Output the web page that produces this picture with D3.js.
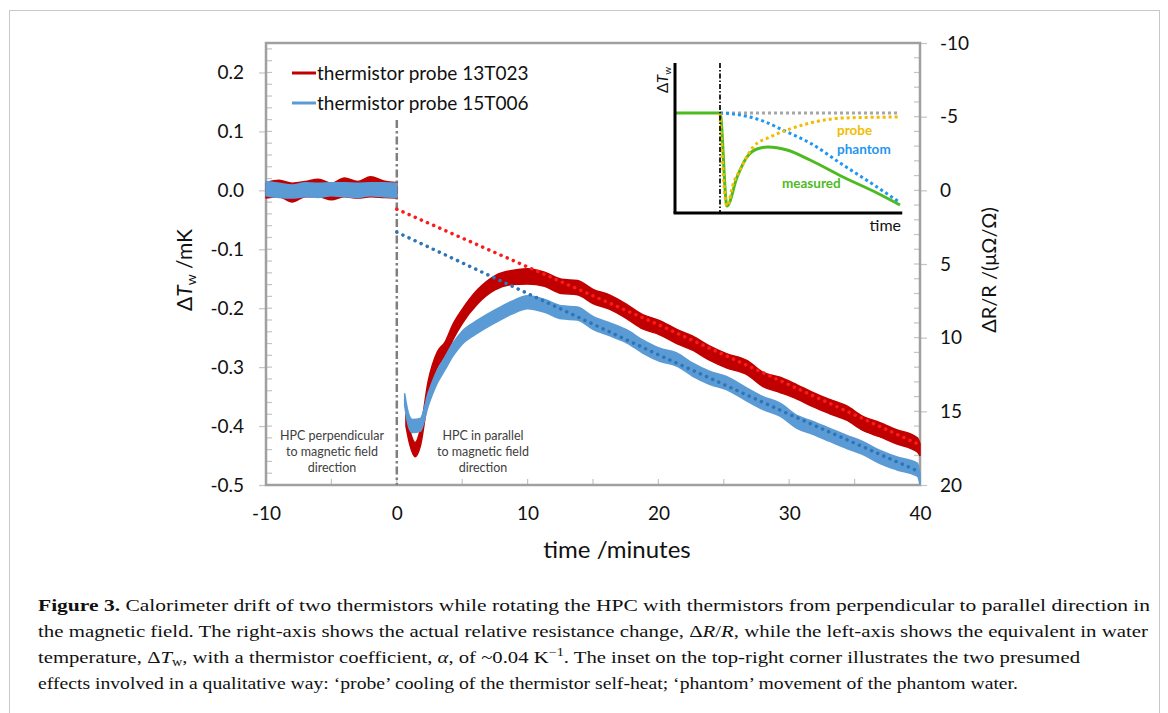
<!DOCTYPE html>
<html>
<head>
<meta charset="utf-8">
<script src="https://cdn.jsdelivr.net/npm/d3@7"></script>
<style>
  body { margin: 0; background: #fff; }
  text { font-family: Lato, "Open Sans", sans-serif; }
</style>
</head>
<body>
<div id="chart"></div>
<script>
// ---- data ----
const xTicks = [-10, 0, 10, 20, 30, 40];
const yTicks = [0.2, 0.1, 0.0, -0.1, -0.2, -0.3, -0.4, -0.5];
const rTicks = [-10, -5, 0, 5, 10, 15, 20];

// before rotation (minutes, mK, half-width of noise band)
const preTime = [-10, -9, -8, -7, -6, -5, -4, -3, -2, -1, 0];
const redPre = [0.0, 0.003, -0.004, 0.002, 0.004, -0.002, 0.005, 0.001, 0.006, 0.002, 0.0];
const redPreNoise = [0.013, 0.014, 0.016, 0.013, 0.015, 0.014, 0.016, 0.014, 0.017, 0.014, 0.013];
const bluePre = [0.003, 0.0, -0.002, 0.001, 0.0, 0.002, 0.001, 0.0, 0.002, 0.001, 0.0];
const bluePreNoise = [0.012, 0.012, 0.011, 0.012, 0.012, 0.011, 0.012, 0.012, 0.011, 0.012, 0.012];

// after rotation, probe 13T023
const redTime = [0.7, 1.0, 1.4, 1.8, 2.4, 3.1, 3.7, 4.3, 5.0, 6.2, 7.5, 8.8, 10, 11.3, 12.6, 13.8, 15, 16.3, 17.6, 18.8, 20.1, 21.4, 22.6, 23.9, 25.2, 26.8, 28, 29.3, 30.6, 31.8, 33.1, 34.4, 35.6, 36.9, 38.2, 39.8, 40];
const redPost = [-0.39, -0.42, -0.44, -0.42, -0.338, -0.287, -0.27, -0.24, -0.214, -0.18, -0.157, -0.148, -0.146, -0.151, -0.163, -0.165, -0.18, -0.19, -0.206, -0.223, -0.233, -0.248, -0.259, -0.276, -0.289, -0.301, -0.321, -0.33, -0.342, -0.355, -0.367, -0.378, -0.395, -0.406, -0.418, -0.432, -0.44];
const redNoise = [0.01, 0.012, 0.012, 0.014, 0.014, 0.013, 0.013, 0.013, 0.012, 0.012, 0.012, 0.012, 0.013, 0.012, 0.012, 0.012, 0.012, 0.012, 0.012, 0.012, 0.012, 0.012, 0.012, 0.012, 0.012, 0.012, 0.012, 0.013, 0.012, 0.012, 0.012, 0.012, 0.012, 0.012, 0.012, 0.012, 0.01];

// after rotation, probe 15T006
const blueTime = [0.6, 0.9, 1.2, 1.8, 2.4, 3.1, 3.7, 4.3, 5.0, 6.2, 7.5, 8.8, 10, 11.3, 12.6, 13.8, 15, 16.3, 17.6, 18.8, 20.1, 21.4, 22.6, 23.9, 25.2, 26.8, 28, 29.3, 30.6, 31.8, 33.1, 34.4, 35.6, 36.9, 38.2, 39.8, 40];
const bluePost = [-0.355, -0.39, -0.40, -0.398, -0.355, -0.316, -0.293, -0.27, -0.25, -0.231, -0.214, -0.199, -0.19, -0.196, -0.207, -0.209, -0.225, -0.236, -0.248, -0.265, -0.279, -0.287, -0.304, -0.318, -0.327, -0.347, -0.361, -0.372, -0.393, -0.403, -0.415, -0.427, -0.437, -0.452, -0.463, -0.474, -0.49];
const blueNoise = [0.01, 0.011, 0.011, 0.011, 0.011, 0.011, 0.011, 0.011, 0.011, 0.011, 0.011, 0.011, 0.011, 0.011, 0.011, 0.011, 0.011, 0.011, 0.011, 0.011, 0.011, 0.011, 0.011, 0.011, 0.011, 0.011, 0.011, 0.011, 0.011, 0.011, 0.011, 0.011, 0.011, 0.011, 0.011, 0.011, 0.008];

// dotted trend lines
const trendTime = [0, 10, 20, 30, 40];
const redTrend = [-0.032, -0.13, -0.228, -0.33, -0.432];
const blueTrend = [-0.071, -0.175, -0.279, -0.38, -0.478];

const legendLabels = ["thermistor probe 13T023", "thermistor probe 15T006"];

// inset (qualitative, arbitrary units)
const insetLevelTime = [2, 10];
const insetLevel = [1.0, 1.0];
const insetPhantomTime = [2, 2.9, 3.78, 4.98, 6, 7.47, 8.98, 9.96];
const insetPhantom = [1.0, 0.98, 0.93, 0.81, 0.70, 0.48, 0.26, 0.11];
const insetProbeTime = [2, 2.31, 2.6, 2.89, 3.47, 4.22, 4.98, 6, 7.47, 9.96];
const insetProbe = [1.0, 0.07, 0.3, 0.43, 0.66, 0.76, 0.83, 0.90, 0.95, 0.96];
const insetMeasTime = [0, 2, 2.31, 2.76, 3.2, 3.64, 4.13, 4.98, 6, 7.47, 8.98, 10];
const insetMeas = [1.0, 1.0, 0.07, 0.36, 0.56, 0.64, 0.66, 0.63, 0.53, 0.36, 0.20, 0.08];

// ---- layout ----
const W = 1168, H = 713;
const plot = { left: 266, right: 920, top: 43, bottom: 485 };

const svg = d3.select("#chart").append("svg")
  .attr("width", W).attr("height", H);

// figure frame
svg.append("rect")
  .attr("x", 9.5).attr("y", 10.5)
  .attr("width", 1150).attr("height", 740)
  .attr("fill", "none").attr("stroke", "#c8c8c8").attr("stroke-width", 1);

const x = d3.scaleLinear().domain([-10, 40]).range([plot.left, plot.right]);
const y = d3.scaleLinear().domain([-0.5, 0.25]).range([plot.bottom, plot.top]);
const yR = d3.scaleLinear().domain([20, -10]).range([plot.bottom, plot.top]);

const axisColor = "#a0a0a0";

// minor ticks inside
const yMinor = d3.range(-0.5, 0.2501, 0.02);
svg.append("g").selectAll("line").data(yMinor).join("line")
  .attr("x1", plot.left).attr("x2", plot.left + 6)
  .attr("y1", d => y(d)).attr("y2", d => y(d))
  .attr("stroke", "#c4c4c4").attr("stroke-width", 1.2);
const rMinor = d3.range(-10, 20.01, 1);
svg.append("g").selectAll("line").data(rMinor).join("line")
  .attr("x1", plot.right - 6).attr("x2", plot.right)
  .attr("y1", d => yR(d)).attr("y2", d => yR(d))
  .attr("stroke", "#c4c4c4").attr("stroke-width", 1.2);
const xMinor = d3.range(-10, 40.01, 5);
svg.append("g").selectAll("line").data(xMinor).join("line")
  .attr("x1", d => x(d)).attr("x2", d => x(d))
  .attr("y1", plot.bottom - 6).attr("y2", plot.bottom)
  .attr("stroke", "#c4c4c4").attr("stroke-width", 1.2);

// left axis (plain hyphen minus, like the original)
const gLeft = svg.append("g")
  .attr("transform", `translate(${plot.left},0)`)
  .call(d3.axisLeft(y).tickValues(yTicks).tickSize(7).tickPadding(15).tickFormat(d => d.toFixed(1)));
gLeft.select(".domain").remove();
gLeft.selectAll("line").attr("stroke", "#c4c4c4").attr("stroke-width", 1.2);
gLeft.selectAll("text").attr("font-size", 19).attr("fill", "#111")
  .attr("font-family", "Lato, sans-serif");

// right axis
const gRight = svg.append("g")
  .attr("transform", `translate(${plot.right},0)`)
  .call(d3.axisRight(yR).tickValues(rTicks).tickSize(7).tickPadding(13).tickFormat(d => String(d)));
gRight.select(".domain").remove();
gRight.selectAll("line").attr("stroke", "#c4c4c4").attr("stroke-width", 1.2);
gRight.selectAll("text").attr("font-size", 19).attr("fill", "#111")
  .attr("font-family", "Lato, sans-serif");

// bottom axis
const gBottom = svg.append("g")
  .attr("transform", `translate(0,${plot.bottom})`)
  .call(d3.axisBottom(x).tickValues(xTicks).tickSize(0).tickPadding(22).tickFormat(d => String(d)));
gBottom.select(".domain").remove();
gBottom.selectAll("text").attr("font-size", 19).attr("fill", "#111")
  .attr("font-family", "Lato, sans-serif");

// plot frame
svg.append("rect")
  .attr("x", plot.left).attr("y", plot.top)
  .attr("width", plot.right - plot.left).attr("height", plot.bottom - plot.top)
  .attr("fill", "none").attr("stroke", axisColor).attr("stroke-width", 2.5);

// axis titles
const leftTitle = svg.append("text")
  .attr("transform", "translate(192,270) rotate(-90)")
  .attr("text-anchor", "middle").attr("font-size", 21).attr("fill", "#111");
leftTitle.append("tspan").text("Δ");
leftTitle.append("tspan").attr("font-style", "italic").text("T");
leftTitle.append("tspan").attr("font-size", 14).attr("dy", 4).text("w");
leftTitle.append("tspan").attr("dy", -4).text(" /mK");

svg.append("text")
  .attr("transform", "translate(996,270) rotate(-90)")
  .attr("text-anchor", "middle").attr("font-size", 20).attr("fill", "#111")
  .text("ΔR/R /(μΩ/Ω)");

svg.append("text")
  .attr("x", 617).attr("y", 558)
  .attr("text-anchor", "middle").attr("font-size", 24).attr("fill", "#111")
  .text("time /minutes");

// rotation marker at t = 0
svg.append("line")
  .attr("x1", x(0)).attr("x2", x(0))
  .attr("y1", 120).attr("y2", plot.bottom)
  .attr("stroke", "#7f7f7f").attr("stroke-width", 2.5)
  .attr("stroke-dasharray", "8,3,2.5,3");

// series as noise bands
function band(times, vals, noise) {
  return times.map((t, i) => ({ t: t, v: vals[i], n: noise[i] }));
}
const area = d3.area()
  .x(d => x(d.t))
  .y0(d => y(d.v - d.n))
  .y1(d => y(d.v + d.n))
  .curve(d3.curveMonotoneX);
const line = d3.line().x(d => x(d.t)).y(d => y(d.v));

const series = [
  { color: "#c00000", parts: [band(preTime, redPre, redPreNoise), band(redTime, redPost, redNoise)] },
  { color: "#5b9bd5", parts: [band(preTime, bluePre, bluePreNoise), band(blueTime, bluePost, blueNoise)] }
];
series.forEach(s => {
  s.parts.forEach(p => {
    svg.append("path").datum(p)
      .attr("d", area)
      .attr("fill", s.color)
      .attr("stroke", s.color).attr("stroke-width", 1.5)
      .attr("stroke-linejoin", "round");
  });
});

// dotted trends
const trends = [
  { color: "#ff1a1a", vals: redTrend },
  { color: "#2e75b6", vals: blueTrend }
];
trends.forEach(tr => {
  svg.append("path")
    .datum(trendTime.map((t, i) => ({ t: t, v: tr.vals[i] })))
    .attr("d", line)
    .attr("fill", "none").attr("stroke", tr.color)
    .attr("stroke-width", 3.5).attr("stroke-linecap", "round")
    .attr("stroke-dasharray", "0.1,6.6");
});

// legend
const legendColors = ["#c00000", "#5b9bd5"];
legendLabels.forEach((lab, i) => {
  const ly = 73 + i * 30;
  svg.append("line")
    .attr("x1", 292).attr("x2", 316).attr("y1", ly).attr("y2", ly)
    .attr("stroke", legendColors[i]).attr("stroke-width", 3);
  svg.append("text")
    .attr("x", 317).attr("y", ly + 7)
    .attr("font-size", 19).attr("fill", "#111")
    .text(lab);
});

// region notes
const notes = [
  { cx: 332, lines: ["HPC perpendicular", "to magnetic field", "direction"] },
  { cx: 483, lines: ["HPC in parallel", "to magnetic field", "direction"] }
];
notes.forEach(n => {
  n.lines.forEach((l, i) => {
    svg.append("text")
      .attr("x", n.cx).attr("y", 440 + i * 16)
      .attr("text-anchor", "middle").attr("font-size", 12.5)
      .attr("fill", "#404040").text(l);
  });
});

// ---- inset ----
const xi = d3.scaleLinear().domain([0, 10]).range([675, 900]);
const yi = d3.scaleLinear().domain([0, 1.5]).range([213, 63]);
const iline = d3.line().x(d => xi(d.t)).y(d => yi(d.v));
function pts(times, vals) { return times.map((t, i) => ({ t: t, v: vals[i] })); }

svg.append("path").datum(pts(insetLevelTime, insetLevel))
  .attr("d", iline).attr("fill", "none")
  .attr("stroke", "#a6a6a6").attr("stroke-width", 3).attr("stroke-dasharray", "3,3");
svg.append("path").datum(pts(insetMeasTime, insetMeas))
  .attr("d", d3.line().x(d => xi(d.t)).y(d => yi(d.v)).curve(d3.curveMonotoneX))
  .attr("fill", "none").attr("stroke", "#4dbb1f").attr("stroke-width", 3);
svg.append("path").datum(pts(insetPhantomTime, insetPhantom))
  .attr("d", iline.curve(d3.curveMonotoneX)).attr("fill", "none")
  .attr("stroke", "#1f96f0").attr("stroke-width", 3).attr("stroke-dasharray", "3,3");
svg.append("path").datum(pts(insetProbeTime, insetProbe))
  .attr("d", iline.curve(d3.curveMonotoneX)).attr("fill", "none")
  .attr("stroke", "#f2bd00").attr("stroke-width", 3).attr("stroke-dasharray", "3,3");

// inset marker and axes
svg.append("line")
  .attr("x1", xi(2)).attr("x2", xi(2)).attr("y1", yi(1.5)).attr("y2", yi(0))
  .attr("stroke", "#111").attr("stroke-width", 1.8)
  .attr("stroke-dasharray", "5,2,1.5,2");
svg.append("line")
  .attr("x1", xi(0)).attr("x2", xi(0)).attr("y1", yi(1.5)).attr("y2", yi(0))
  .attr("stroke", "#000").attr("stroke-width", 3);
svg.append("line")
  .attr("x1", xi(0) - 1.5).attr("x2", xi(10.1)).attr("y1", yi(0)).attr("y2", yi(0))
  .attr("stroke", "#000").attr("stroke-width", 3);

const iTitle = svg.append("text")
  .attr("transform", "translate(668,80) rotate(-90)")
  .attr("text-anchor", "middle").attr("font-size", 15).attr("fill", "#111");
iTitle.append("tspan").text("Δ");
iTitle.append("tspan").attr("font-style", "italic").text("T");
iTitle.append("tspan").attr("font-size", 10).attr("dy", 3).text("w");

svg.append("text")
  .attr("x", 901).attr("y", 231).attr("text-anchor", "end")
  .attr("font-size", 16).attr("fill", "#111").text("time");

const insetLabels = [
  { text: "probe", x: 837, y: 135, color: "#f2bd00" },
  { text: "phantom", x: 837, y: 154, color: "#1f96f0" },
  { text: "measured", x: 782, y: 188, color: "#4dbb1f" }
];
insetLabels.forEach(l => {
  svg.append("text").attr("x", l.x).attr("y", l.y)
    .attr("font-size", 13.5).attr("font-weight", "bold")
    .attr("fill", l.color).text(l.text);
});

// ---- caption ----
const capFont = "'Liberation Serif', 'DejaVu Serif', serif";
function capLine(yPos, len) {
  return svg.append("text").attr("x", 38).attr("y", yPos)
    .attr("font-size", 17.5).attr("fill", "#111")
    .style("font-family", capFont)
    .attr("textLength", len).attr("lengthAdjust", "spacingAndGlyphs");
}
const c1 = capLine(611, 1112);
c1.append("tspan").attr("font-weight", "bold").style("font-family", capFont).text("Figure 3.");
c1.append("tspan").style("font-family", capFont).text("  Calorimeter drift of two thermistors while rotating the HPC with thermistors from perpendicular to parallel direction in");

const c2 = capLine(637, 1110);
c2.append("tspan").style("font-family", capFont).text("the magnetic field. The right-axis shows the actual relative resistance change, Δ");
c2.append("tspan").attr("font-style", "italic").style("font-family", capFont).text("R");
c2.append("tspan").style("font-family", capFont).text("/");
c2.append("tspan").attr("font-style", "italic").style("font-family", capFont).text("R");
c2.append("tspan").style("font-family", capFont).text(", while the left-axis shows the equivalent in water");

const c3 = capLine(663, 1042);
c3.append("tspan").style("font-family", capFont).text("temperature, Δ");
c3.append("tspan").attr("font-style", "italic").style("font-family", capFont).text("T");
c3.append("tspan").attr("font-size", 12).attr("dy", 3).style("font-family", capFont).text("w");
c3.append("tspan").attr("dy", -3).style("font-family", capFont).text(", with a thermistor coefficient, ");
c3.append("tspan").attr("font-style", "italic").style("font-family", capFont).text("α");
c3.append("tspan").style("font-family", capFont).text(", of ~0.04 K");
c3.append("tspan").attr("font-size", 12).attr("dy", -7).style("font-family", capFont).text("−1");
c3.append("tspan").attr("dy", 7).style("font-family", capFont).text(". The inset on the top-right corner illustrates the two presumed");

const c4 = capLine(689, 980);
c4.append("tspan").style("font-family", capFont).text("effects involved in a qualitative way: ‘probe’ cooling of the thermistor self-heat; ‘phantom’ movement of the phantom water.");
</script>
</body>
</html>
